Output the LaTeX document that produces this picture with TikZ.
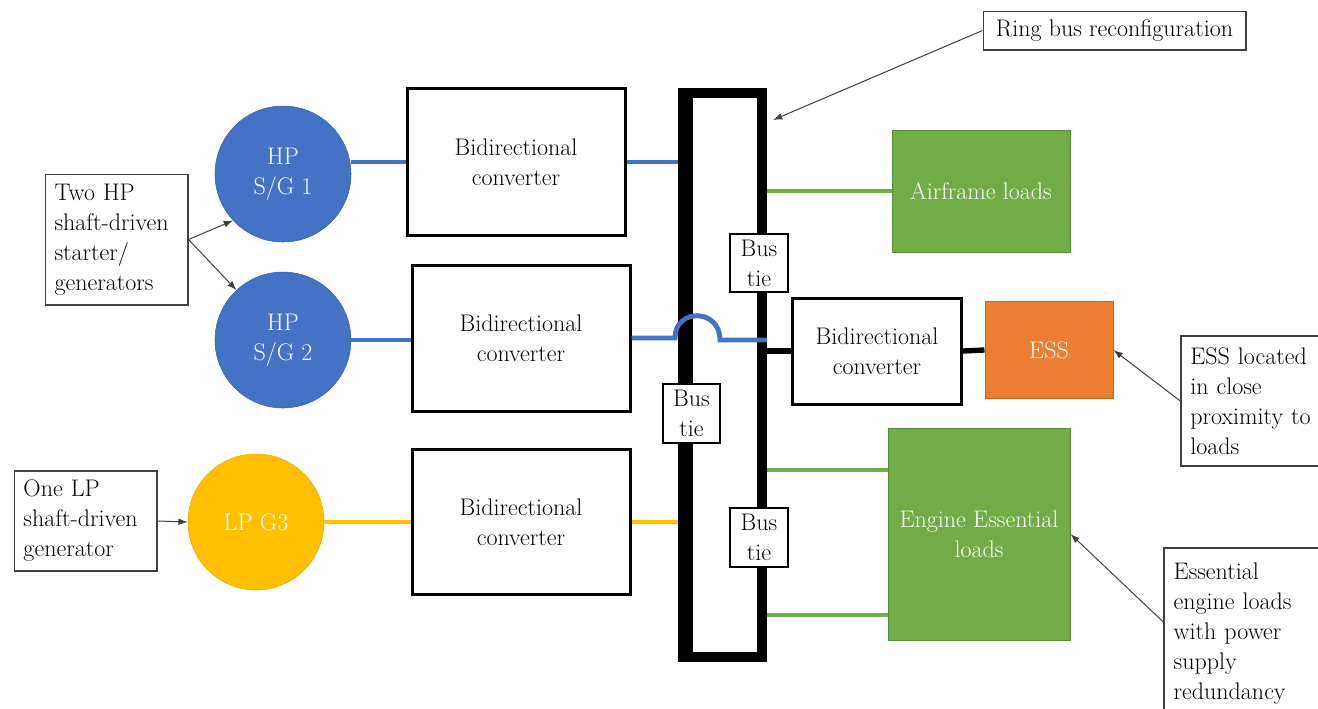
\documentclass[tikz,border=0pt]{standalone}
\usetikzlibrary{arrows.meta}
\definecolor{hpblue}{HTML}{4472C4}
\definecolor{loadgreen}{HTML}{70AD47}
\definecolor{essorange}{HTML}{ED7D31}
\definecolor{lpyellow}{HTML}{FFC000}
\definecolor{notegray}{HTML}{404040}
\begin{document}
\begin{tikzpicture}[x=0.75pt,y=-0.75pt,
    font=\fontsize{18}{22.5}\selectfont,
    genset/.style={circle,minimum size=102pt,inner sep=0pt,text=white,align=center},
    convbox/.style={draw,line width=2.25pt,fill=white,inner sep=2pt,align=center},
    tiebox/.style={draw,line width=1.5pt,fill=white,inner sep=1pt,align=center,
        minimum width=43pt,minimum height=44pt},
    loadbox/.style={draw=loadgreen!80!black,line width=0.75pt,fill=loadgreen,text=white,
        inner sep=2pt,align=center},
    notebox/.style={draw=notegray,line width=1pt,fill=white,align=left,inner xsep=7pt},
    bluewire/.style={hpblue,line width=3.5pt},
    greenwire/.style={loadgreen,line width=3.5pt},
    yellowwire/.style={lpyellow,line width=3.5pt},
    blackwire/.style={black,line width=4pt},
    callout/.style={notegray,line width=0.75pt,-{Latex[length=7pt,width=5pt]}}]
    \useasboundingbox(0,0)rectangle(1318,708);
    \clip(0,0)rectangle(1318,708);
    % sources
    \node[genset,fill=hpblue,draw=hpblue!85!black](sg1)at(283,174){HP\\S/G 1};
    \node[genset,fill=hpblue,draw=hpblue!85!black](sg2)at(283,340){HP\\S/G 2};
    \node[genset,fill=lpyellow,draw=lpyellow!90!black](g3)at(256,522){LP G3};
    % converters
    \node[convbox,minimum width=163.5pt,minimum height=110pt](conv1)at(516,162){Bidirectional\\converter};
    \node[convbox,minimum width=163.5pt,minimum height=109.5pt](conv2)at(521,338){Bidirectional\\converter};
    \node[convbox,minimum width=163.5pt,minimum height=109pt](conv3)at(521,522){Bidirectional\\converter};
    \node[convbox,minimum width=126.75pt,minimum height=79.5pt](conv4)at(877,351){Bidirectional\\converter};
    % loads
    \node[loadbox,minimum width=133.5pt,minimum height=91.5pt](air)at(981,191){Airframe loads};
    \node[loadbox,fill=essorange,draw=essorange!80!black,minimum width=96pt,minimum height=72.75pt](ess)at(1049,350){ESS};
    \node[loadbox,minimum width=136.5pt,minimum height=159pt](eng)at(979,534){Engine Essential\\loads};
    % ring bus
    \node[draw,line width=7.5pt,minimum width=55.5pt,minimum height=423pt,inner sep=0pt](bus)at(725,375){};
    \path(eng.west)++(0,-64)coordinate(engA);
    \path(eng.west)++(0,81)coordinate(engB);
    \coordinate(hopA)at(675,338);
    \coordinate(hopB)at(720,340);
    % wires
    \draw[bluewire](conv1.west-|sg1.east)--(conv1.west);
    \draw[bluewire](conv1.east)--(conv1.east-|bus.west);
    \draw[bluewire](sg2.east)--(sg2.east-|conv2.west);
    \draw[bluewire](conv2.east)--(hopA)..controls(675,308)and(720,308)..(hopB)--(hopB-|bus.east);
    \draw[yellowwire](g3.east)--(g3.east-|conv3.west);
    \draw[yellowwire](conv3.east)--(conv3.east-|bus.west);
    \draw[blackwire](conv4.west-|bus.east)--(conv4.west);
    \draw[blackwire](conv4.east)--(ess.west);
    \draw[greenwire](air.west-|bus.east)--(air.west);
    \draw[greenwire](engA-|bus.east)--(engA);
    \draw[greenwire](engB-|bus.east)--(engB);
    % redraw bus over the hop
    \draw[line width=7.5pt](bus.north west)--(bus.south west);
    \draw[bluewire](hopA)..controls(675,308)and(720,308)..(hopB);
    % bus ties
    \node[tiebox](tie1)at(759,263){Bus\\tie};
    \node[tiebox](tie2)at(691.5,413.5){Bus\\tie};
    \node[tiebox](tie3)at(759,537.5){Bus\\tie};
    % notes
    \node[notebox,minimum width=197pt,minimum height=29pt,align=center](ringnote)at(1114.5,30.5){Ring bus reconfiguration};
    \node[notebox,minimum width=107pt,minimum height=98pt,text width=93pt](twonote)at(116.5,239.5){Two HP\\shaft-driven\\starter/\\generators};
    \node[notebox,minimum width=107pt,minimum height=75pt,text width=93pt](lpnote)at(85.5,521){One LP\\shaft-driven\\generator};
    \node[notebox,minimum width=108pt,minimum height=97.5pt,text width=94pt](essnote)at(1253,401){ESS located\\in close\\proximity to\\loads};
    \node[notebox,minimum width=124.5pt,minimum height=129pt,text width=110pt](engnote)at(1247,634){Essential\\engine loads\\with power\\supply\\redundancy};
    \coordinate(ringtip)at(773,120);
    % callouts
    \draw[callout](ringnote.west)--(ringtip);
    \draw[callout](twonote.east)--(sg1.223);
    \draw[callout](twonote.east)--(sg2.133);
    \draw[callout](lpnote.east)--(g3.west);
    \draw[callout](essnote.west)--(ess.east);
    \draw[callout]([yshift=9pt]engnote.west)--(eng.east);
\end{tikzpicture}
\end{document}
